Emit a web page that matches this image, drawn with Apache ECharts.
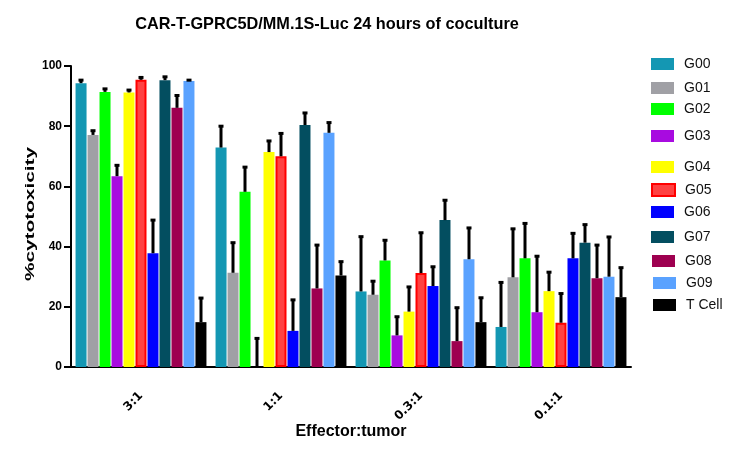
<!DOCTYPE html>
<html>
<head>
<meta charset="utf-8">
<script src="https://cdn.jsdelivr.net/npm/echarts@6/dist/echarts.min.js"></script>
<style>html,body{margin:0;padding:0;background:#fff;}#c{width:740px;height:450px;}</style>
</head>
<body>
<div id="c"></div>
<script>
const categories = ['3:1', '1:1', '0.3:1', '0.1:1'];
const seriesNames = ['G00','G01','G02','G03','G04','G05','G06','G07','G08','G09','T Cell'];
const yTicks = [0, 20, 40, 60, 80, 100];

const G00 = [94.3, 72.9, 25.1, 13.3];
const G01 = [77.1, 31.3, 24.0, 29.8];
const G02 = [91.4, 58.2, 35.4, 36.1];
const G03 = [63.4, 0, 10.5, 18.2];
const G04 = [91.2, 71.4, 18.4, 25.2];
const G05 = [95.4, 70.0, 31.2, 14.7];
const G06 = [37.8, 12.0, 26.9, 36.1];
const G07 = [95.3, 80.4, 48.8, 41.3];
const G08 = [86.1, 26.1, 8.6, 29.5];
const G09 = [95.0, 77.8, 35.8, 30.0];
const TCell = [14.9, 30.4, 14.9, 23.2];

const G00err = [1.0, 7.1, 18.2, 14.8];
const G01err = [1.4, 10.0, 4.5, 16.1];
const G02err = [1.0, 8.2, 6.7, 11.6];
const G03err = [3.6, 9.5, 6.2, 18.6];
const G04err = [0.8, 3.7, 8.2, 6.3];
const G05err = [0.8, 7.6, 13.4, 9.7];
const G06err = [11.0, 10.3, 6.4, 8.3];
const G07err = [1.1, 4.0, 6.6, 6.0];
const G08err = [4.1, 14.4, 11.1, 11.0];
const G09err = [0.3, 3.4, 10.4, 13.2];
const TCellerr = [8.0, 4.6, 8.1, 9.8];

const values = [G00, G01, G02, G03, G04, G05, G06, G07, G08, G09, TCell];
const errors = [G00err, G01err, G02err, G03err, G04err, G05err, G06err, G07err, G08err, G09err, TCellerr];

const colors = ['#1497B3','#A0A0A5','#00FF00','#A80BE0','#FFFF00','#FF4242','#0000FF','#034E60','#9E0050','#5AA2FF','#000000'];
const borders = [null,null,null,null,null,'#FF0000',null,null,null,null,null];
const legendCenters = [64, 88, 109, 136, 167, 190, 212, 237, 261, 283, 305];
const legendLefts = [651, 651, 651, 651, 651, 651, 651, 651, 652, 653, 653];

const FONT = 'Liberation Sans, Arial, sans-serif';
const BAR_W = 11, STEP = 12;

const barSeries = seriesNames.map((n, i) => ({
  name: n,
  type: 'bar',
  data: values[i],
  barWidth: BAR_W,
  barGap: '9%',
  itemStyle: borders[i] ? {color: colors[i], borderColor: borders[i], borderWidth: 2} : {color: colors[i]},
  emphasis: {disabled: true},
  z: 2
}));

const errData = [];
values.forEach((arr, s) => arr.forEach((v, c) => errData.push([c, s, v, errors[s][c]])));

const errSeries = {
  type: 'custom',
  name: 'err',
  data: errData,
  encode: {x: 0, y: 2},
  z: 5,
  silent: true,
  renderItem: function (params, api) {
    const cat = api.value(0), s = api.value(1), v = api.value(2), e = api.value(3);
    const base = api.coord([cat, v]);
    const top = api.coord([cat, v + e]);
    const x = Math.round(base[0] + (s - (seriesNames.length - 1) / 2) * STEP);
    return {
      type: 'group',
      children: [
        {type: 'line', shape: {x1: x, y1: base[1], x2: x, y2: top[1]}, style: {stroke: '#000', lineWidth: 3}},
        {type: 'rect', shape: {x: x - 2.5, y: top[1] - 1.5, width: 5, height: 3}, style: {fill: '#000'}}
      ]
    };
  }
};

const legends = seriesNames.map((n, i) => ({
  data: [n],
  left: legendLefts[i],
  top: legendCenters[i] - 9,
  padding: 0,
  orient: 'vertical',
  itemWidth: 23,
  itemHeight: 12,
  icon: 'rect',
  selectedMode: false,
  textStyle: {fontFamily: FONT, fontSize: 14, lineHeight: 18, color: '#111', padding: [0, 0, 0, 5]}
}));

const chart = echarts.init(document.getElementById('c'), null, {renderer: 'canvas'});
chart.setOption({
  animation: false,
  backgroundColor: '#fff',
  title: {
    text: 'CAR-T-GPRC5D/MM.1S-Luc 24 hours of coculture',
    left: 322,
    textAlign: 'center',
    top: 12,
    textStyle: {fontFamily: FONT, fontSize: 16.3, fontWeight: 'bold', color: '#000'}
  },
  legend: legends,
  graphic: [{
    type: 'text',
    x: 30,
    y: 214,
    rotation: Math.PI / 2,
    scaleX: 1.6,
    style: {
      text: '%cytotoxicity',
      font: 'bold 13px Liberation Sans, Arial, sans-serif',
      fill: '#000',
      align: 'center',
      verticalAlign: 'middle'
    }
  }],
  grid: {left: 71, right: 109, top: 66, bottom: 83, containLabel: false, outerBoundsMode: 'none'},
  xAxis: {
    type: 'category',
    data: categories,
    name: 'Effector:tumor',
    nameLocation: 'middle',
    nameGap: 57,
    nameMoveOverlap: false,
    nameTextStyle: {fontFamily: FONT, fontSize: 16, fontWeight: 'bold', color: '#000'},
    axisLine: {lineStyle: {color: '#000', width: 2}},
    axisTick: {alignWithLabel: true, length: 6, lineStyle: {color: '#000', width: 2}},
    axisLabel: {rotate: 45, margin: 27, fontFamily: 'DejaVu Sans, sans-serif', fontSize: 12, fontWeight: 'bold', color: '#000'}
  },
  yAxis: {
    type: 'value',
    min: yTicks[0],
    max: yTicks[yTicks.length - 1],
    interval: yTicks[1] - yTicks[0],
    axisLine: {show: true, lineStyle: {color: '#000', width: 2}},
    axisTick: {show: true, length: 7, lineStyle: {color: '#000', width: 2}},
    axisLabel: {margin: 9, fontFamily: FONT, fontSize: 12, fontWeight: 'bold', color: '#000'},
    splitLine: {show: false}
  },
  series: barSeries.concat([errSeries])
});
</script>
</body>
</html>
